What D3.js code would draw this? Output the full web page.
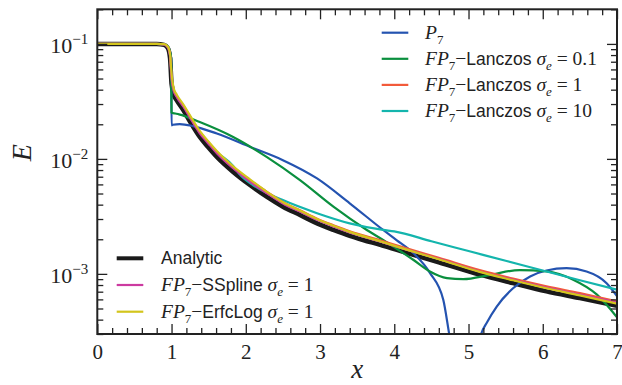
<!DOCTYPE html>
<html><head><meta charset="utf-8">
<script src="https://cdn.jsdelivr.net/npm/d3@7"></script>
<style>body{margin:0;background:#fff}svg{display:block}</style>
</head><body><svg id="c" width="622" height="385"></svg>
<script>
// ---------- data ----------
const xTicks = [0, 1, 2, 3, 4, 5, 6, 7];
const yTicks = [1e-3, 1e-2, 1e-1];
const yTickExps = ["\u22123", "\u22122", "\u22121"];

const xAnalytic = [0, 0.8, 0.9, 0.95, 0.98, 1.0, 1.03, 1.07, 1.16, 1.25, 1.38, 1.5, 1.61, 1.83, 2.06, 2.28, 2.5, 2.73, 2.96, 3.18, 3.4, 3.58, 3.81, 4.2, 4.6, 5.15, 5.6, 6.05, 6.5, 7.0];
const eAnalytic = [0.1, 0.1, 0.098, 0.092, 0.075, 0.045, 0.036, 0.0323, 0.0264, 0.021, 0.0155, 0.0125, 0.0104, 0.0077, 0.0059, 0.00469, 0.00384, 0.00325, 0.00275, 0.00241, 0.00214, 0.00197, 0.00179, 0.0015, 0.00126, 0.000985, 0.00083, 0.000705, 0.000615, 0.000527];

const xP7 = [0, 0.8, 0.9, 0.95, 0.98, 0.995, 1.0, 1.02, 1.11, 1.29, 1.61, 2.06, 2.5, 2.96, 3.4, 3.85, 4.03, 4.26, 4.48, 4.66, 4.74, 4.85, 5.05, 5.17, 5.25, 5.38, 5.6, 5.83, 6.05, 6.32, 6.59, 6.86, 7.0];
const eP7 = [0.1, 0.1, 0.099, 0.095, 0.085, 0.075, 0.0196, 0.0198, 0.0201, 0.0193, 0.0166, 0.0127, 0.00975, 0.00676, 0.00411, 0.00241, 0.00197, 0.00151, 0.00102, 0.000596, 0.0003, 0.00012, 0.00012, 0.0003, 0.00038, 0.00052, 0.00075, 0.00095, 0.00107, 0.00112, 0.00105, 0.00083, 0.00064];

const xL01 = [0, 0.8, 0.9, 0.95, 0.98, 0.995, 1.0, 1.05, 1.1, 1.38, 1.83, 2.28, 2.73, 3.18, 3.63, 3.85, 4.26, 4.48, 4.71, 4.93, 5.29, 5.69, 6.05, 6.41, 6.73, 7.0];
const eL01 = [0.1, 0.1, 0.099, 0.095, 0.085, 0.075, 0.0252, 0.0248, 0.0244, 0.0209, 0.0155, 0.0104, 0.00653, 0.00384, 0.00241, 0.00197, 0.00132, 0.00105, 0.00092, 0.0009, 0.00098, 0.00108, 0.00105, 0.00089, 0.00066, 0.00042];

const xSmooth = [0, 0.8, 0.9, 0.95, 0.98, 1.0, 1.03, 1.07, 1.16, 1.25, 1.38, 1.5, 1.61, 1.83, 2.06, 2.28, 2.5, 2.73, 2.96, 3.18, 3.4, 3.81, 4.2, 4.6, 5.15, 5.6, 6.05, 6.5, 7.0];
const eL1 = [0.1, 0.1, 0.099, 0.094, 0.08, 0.052, 0.04, 0.035, 0.029, 0.0232, 0.0171, 0.0138, 0.0115, 0.0085, 0.0065, 0.0052, 0.0042, 0.00357, 0.00302, 0.00265, 0.00235, 0.00196, 0.00164, 0.00138, 0.00108, 0.00091, 0.00078, 0.00068, 0.000577];
const eSSpline = [0.1, 0.1, 0.099, 0.093, 0.078, 0.05, 0.039, 0.0345, 0.0284, 0.0227, 0.0167, 0.0135, 0.0112, 0.0083, 0.0063, 0.00505, 0.0041, 0.00348, 0.00295, 0.00258, 0.00229, 0.00191, 0.0016, 0.00135, 0.00105, 0.00089, 0.00076, 0.00066, 0.000565];
const eErfcLog = [0.1, 0.1, 0.0995, 0.095, 0.082, 0.055, 0.041, 0.0362, 0.0297, 0.0238, 0.0175, 0.0141, 0.0117, 0.0086, 0.0066, 0.0052, 0.0042, 0.00355, 0.003, 0.00262, 0.00232, 0.00192, 0.0016, 0.00134, 0.00104, 0.00088, 0.00075, 0.00065, 0.00055];

const xL10 = [0, 0.8, 0.9, 0.95, 0.98, 1.0, 1.03, 1.07, 1.16, 1.25, 1.38, 1.5, 1.61, 1.83, 1.92, 2.1, 2.5, 2.96, 3.4, 3.85, 4.0, 4.5, 5.0, 5.5, 6.0, 6.5, 7.0];
const eL10 = [0.1, 0.1, 0.099, 0.094, 0.08, 0.052, 0.04, 0.035, 0.029, 0.0232, 0.0171, 0.0138, 0.0115, 0.0087, 0.0073, 0.0059, 0.00438, 0.00337, 0.00275, 0.00241, 0.00234, 0.00192, 0.00158, 0.0013, 0.00107, 0.00088, 0.00073];

// ---------- layout ----------
const L = 97.3, R = 617, T = 9.3, B = 334;
const svg = d3.select("#c");
const x = d3.scaleLinear().domain([0, 7]).range([L, R]);
const y = d3.scaleLog().domain([3e-4, 0.2]).range([B, T]);

const serif = "'Liberation Serif', 'DejaVu Serif', serif";
const sans = "'Liberation Sans', Arial, sans-serif";
const axisCol = "#222";

svg.append("defs").append("clipPath").attr("id", "clip")
  .append("rect").attr("x", L).attr("y", T).attr("width", R - L).attr("height", B - T);

const line = d3.line().x(d => x(d[0])).y(d => y(d[1])).curve(d3.curveMonotoneX);
const zip = (xs, es) => xs.map((v, i) => [v, es[i]]);

const series = [
  {xs: xAnalytic, es: eAnalytic, color: "#1a1a1a", w: 4.5},
  {xs: xP7, es: eP7, color: "#2453b0", w: 2.2},
  {xs: xL01, es: eL01, color: "#0a8f3e", w: 2.2},
  {xs: xL10, es: eL10, color: "#14b5ad", w: 2.2},
  {xs: xSmooth, es: eL1, color: "#f25a3a", w: 2.2},
  {xs: xSmooth, es: eSSpline, color: "#cc3aa0", w: 2.2},
  {xs: xSmooth, es: eErfcLog, color: "#d3c51c", w: 2.2}
];
const gPlot = svg.append("g").attr("clip-path", "url(#clip)");
series.forEach(s => {
  gPlot.append("path").datum(zip(s.xs, s.es))
    .attr("d", line).attr("fill", "none")
    .attr("stroke", s.color).attr("stroke-width", s.w)
    .attr("stroke-linejoin", "round");
});

// ---------- axes (inward ticks on all sides) ----------
const xMinor = d3.range(0, 7.001, 0.2).filter(v => Math.abs(v - Math.round(v)) > 1e-6);
const yMinor = [];
[1e-4, 1e-3, 1e-2, 1e-1].forEach(d => { for (let k = 2; k <= 9; k++) { const v = k * d; if (v >= 3e-4 && v <= 0.2) yMinor.push(v); } });

function styleAxis(g) {
  g.select(".domain").remove();
  g.selectAll("line").attr("stroke", axisCol).attr("stroke-width", 1.3);
}
svg.append("g").attr("transform", `translate(0,${B})`)
  .call(d3.axisBottom(x).tickValues(xTicks).tickSizeInner(-10).tickSizeOuter(0).tickPadding(10).tickFormat(d3.format("d")))
  .call(styleAxis)
  .call(g => g.selectAll("text").attr("font-family", serif).attr("font-size", 21).attr("fill", axisCol));
svg.append("g").attr("transform", `translate(0,${B})`)
  .call(d3.axisBottom(x).tickValues(xMinor).tickSizeInner(-6).tickSizeOuter(0).tickFormat(""))
  .call(styleAxis);
svg.append("g").attr("transform", `translate(0,${T})`)
  .call(d3.axisTop(x).tickValues(xTicks).tickSizeInner(-10).tickSizeOuter(0).tickFormat(""))
  .call(styleAxis);
svg.append("g").attr("transform", `translate(0,${T})`)
  .call(d3.axisTop(x).tickValues(xMinor).tickSizeInner(-6).tickSizeOuter(0).tickFormat(""))
  .call(styleAxis);
svg.append("g").attr("transform", `translate(${L},0)`)
  .call(d3.axisLeft(y).tickValues(yTicks).tickSizeInner(-10).tickSizeOuter(0).tickFormat(""))
  .call(styleAxis);
svg.append("g").attr("transform", `translate(${L},0)`)
  .call(d3.axisLeft(y).tickValues(yMinor).tickSizeInner(-6).tickSizeOuter(0).tickFormat(""))
  .call(styleAxis);
svg.append("g").attr("transform", `translate(${R},0)`)
  .call(d3.axisRight(y).tickValues(yTicks).tickSizeInner(-10).tickSizeOuter(0).tickFormat(""))
  .call(styleAxis);
svg.append("g").attr("transform", `translate(${R},0)`)
  .call(d3.axisRight(y).tickValues(yMinor).tickSizeInner(-6).tickSizeOuter(0).tickFormat(""))
  .call(styleAxis);

// y tick labels 10^k
yTicks.forEach((v, i) => {
  const t = svg.append("text").attr("x", L - 9).attr("y", y(v) + 9)
    .attr("text-anchor", "end").attr("font-family", serif).attr("fill", axisCol);
  t.append("tspan").attr("font-size", 22).text("10");
  t.append("tspan").attr("font-size", 15).attr("dy", -9).text(yTickExps[i]);
});

// frame
svg.append("rect").attr("x", L).attr("y", T).attr("width", R - L).attr("height", B - T)
  .attr("fill", "none").attr("stroke", axisCol).attr("stroke-width", 2);

// axis labels
svg.append("text").attr("x", (L + R) / 2).attr("y", 378).attr("text-anchor", "middle")
  .attr("font-family", serif).attr("font-style", "italic").attr("font-size", 27).attr("fill", axisCol).text("x");
svg.append("text").attr("transform", `translate(31,${(T + B) / 2 - 19}) rotate(-90)`).attr("text-anchor", "middle")
  .attr("font-family", serif).attr("font-style", "italic").attr("font-size", 28).attr("fill", axisCol).text("E");

// ---------- legends ----------
function label(sel, parts) {
  let pendingDy = 0;
  parts.forEach(p => {
    const ts = sel.append("tspan").text(p.t);
    let dy = pendingDy; pendingDy = 0;
    if (p.sub) { dy += 5; pendingDy = -5; }
    if (dy) ts.attr("dy", dy);
    ts.attr("font-family", p.sans ? sans : serif)
      .attr("font-size", p.sub ? 13 : (p.sans ? 17.5 : 19.5))
      .attr("font-style", p.it ? "italic" : "normal");
  });
}
const fp7 = [{t: "FP", it: true}, {t: "7", sub: true}, {t: "\u2212"}];
const sigE = (val) => [{t: " \u03C3", it: true}, {t: "e", it: true, sub: true}, {t: " = " + val}];
const legendTop = [
  {color: "#2453b0", parts: [{t: "P", it: true}, {t: "7", sub: true}]},
  {color: "#0a8f3e", parts: [...fp7, {t: "Lanczos", sans: true}, ...sigE("0.1")]},
  {color: "#f25a3a", parts: [...fp7, {t: "Lanczos", sans: true}, ...sigE("1")]},
  {color: "#14b5ad", parts: [...fp7, {t: "Lanczos", sans: true}, ...sigE("10")]}
];
const legendBottom = [
  {color: "#1a1a1a", w: 4, parts: [{t: "Analytic", sans: true}]},
  {color: "#cc3aa0", parts: [...fp7, {t: "SSpline", sans: true}, ...sigE("1")]},
  {color: "#d3c51c", parts: [...fp7, {t: "ErfcLog", sans: true}, ...sigE("1")]}
];
function drawLegend(items, x0, x1, tx, y0, dy) {
  items.forEach((it, i) => {
    const yy = y0 + i * dy;
    svg.append("line").attr("x1", x0).attr("x2", x1).attr("y1", yy).attr("y2", yy)
      .attr("stroke", it.color).attr("stroke-width", it.w || 2.2);
    const t = svg.append("text").attr("x", tx).attr("y", yy + 6).attr("fill", axisCol);
    label(t, it.parts);
  });
}
drawLegend(legendTop, 381.7, 408.3, 425, 32.7, 26.1);
drawLegend(legendBottom, 116.7, 143.3, 161, 258.3, 26.7);
</script></body></html>
